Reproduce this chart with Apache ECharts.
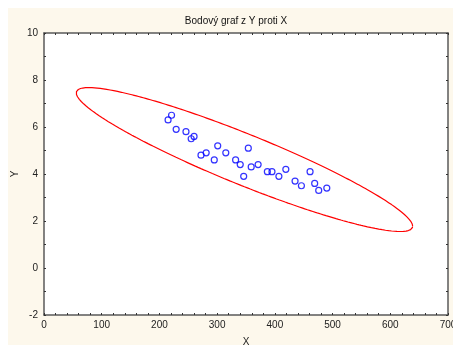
<!DOCTYPE html>
<html>
<head>
<meta charset="utf-8">
<script src="https://cdn.jsdelivr.net/npm/echarts@6/dist/echarts.min.js"></script>
<style>
html,body{margin:0;padding:0;background:#fff;}
#chart{width:453px;height:345px;}
</style>
</head>
<body>
<div id="chart"></div>
<script>
// ---- data ----
const xValues = [215, 221, 229, 246, 255, 260, 272, 281, 295, 301, 315, 332, 340, 346, 354, 359, 371, 387, 395, 407, 419, 435, 446, 461, 469, 476, 490];
const yValues = [6.3, 6.5, 5.9, 5.8, 5.5, 5.6, 4.8, 4.9, 4.6, 5.2, 4.9, 4.6, 4.4, 3.9, 5.1, 4.3, 4.4, 4.1, 4.1, 3.9, 4.2, 3.7, 3.5, 4.1, 3.6, 3.3, 3.4];
const titleText = 'Bodový graf z Y proti X';
const xName = 'X';
const yName = 'Y';
const xTicks = [0, 100, 200, 300, 400, 500, 600, 700];
const yTicks = [-2, 0, 2, 4, 6, 8, 10];
const ellipseScale = 3.45; // prediction-ellipse radius in standard deviations

// ---- derived ellipse from the data statistics ----
const n = xValues.length;
const mx = xValues.reduce((a, b) => a + b, 0) / n;
const my = yValues.reduce((a, b) => a + b, 0) / n;
let sxx = 0, syy = 0, sxy = 0;
for (let i = 0; i < n; i++) {
  const dx = xValues[i] - mx, dy = yValues[i] - my;
  sxx += dx * dx; syy += dy * dy; sxy += dx * dy;
}
sxx /= (n - 1); syy /= (n - 1); sxy /= (n - 1);
const sx = Math.sqrt(sxx), sy = Math.sqrt(syy), r = sxy / (sx * sy);
const ellipse = [];
for (let i = 0; i <= 360; i++) {
  const t = i / 360 * 2 * Math.PI;
  ellipse.push([
    mx + ellipseScale * sx * Math.cos(t),
    my + ellipseScale * sy * (r * Math.cos(t) + Math.sqrt(1 - r * r) * Math.sin(t))
  ]);
}
const points = xValues.map((x, i) => [x, yValues[i]]);

const FONT = "'Liberation Sans', Arial, sans-serif";
const frameColor = '#5a5a5a';
const tickStyle = { color: '#333', width: 1 };

function xAxis(pos, showLabel) {
  return {
    type: 'value', position: pos,
    min: xTicks[0], max: xTicks[xTicks.length - 1], interval: xTicks[1] - xTicks[0],
    axisLine: { show: true, onZero: false, lineStyle: { color: frameColor, width: 1.5 } },
    axisTick: { show: true, inside: true, length: 2, lineStyle: tickStyle },
    minorTick: { show: true, splitNumber: 5, length: 2, lineStyle: tickStyle },
    splitLine: { show: false },
    axisLabel: { show: showLabel, fontSize: 10, color: '#222', margin: 5, fontFamily: FONT },
    name: showLabel ? xName : '', nameLocation: 'middle', nameGap: 22,
    nameTextStyle: { fontSize: 10, color: '#222', fontFamily: FONT }
  };
}
function yAxis(pos, showLabel) {
  return {
    type: 'value', position: pos,
    min: yTicks[0], max: yTicks[yTicks.length - 1], interval: yTicks[1] - yTicks[0],
    axisLine: { show: true, onZero: false, lineStyle: { color: frameColor, width: 1.5 } },
    axisTick: { show: true, inside: true, length: 2, lineStyle: tickStyle },
    minorTick: { show: true, splitNumber: 2, length: 2, lineStyle: tickStyle },
    splitLine: { show: false },
    axisLabel: { show: showLabel, fontSize: 10, color: '#222', margin: 6, fontFamily: FONT },
    name: showLabel ? yName : '', nameLocation: 'middle', nameGap: 24, nameRotate: 90,
    nameMoveOverlap: false,
    nameTextStyle: { fontSize: 10, color: '#222', fontFamily: FONT }
  };
}

const chart = echarts.init(document.getElementById('chart'), null, { renderer: 'canvas' });
chart.setOption({
  backgroundColor: '#fdf8ec',
  animation: false,
  graphic: [
    { type: 'rect', shape: { x: 0, y: 0, width: 453, height: 8 }, style: { fill: '#fff' }, silent: true },
    { type: 'rect', shape: { x: 0, y: 0, width: 8, height: 345 }, style: { fill: '#fff' }, silent: true },
    { type: 'text', style: { text: titleText, x: 236, y: 21, textAlign: 'center', textVerticalAlign: 'middle', font: "10px 'Liberation Sans', Arial, sans-serif", fill: '#111' } }
  ],
  grid: { left: 44, right: 5, top: 33, bottom: 30, show: true, backgroundColor: '#fff', borderWidth: 0, containLabel: false, outerBoundsMode: 'none' },
  xAxis: [xAxis('bottom', true), xAxis('top', false)],
  yAxis: [yAxis('left', true), yAxis('right', false)],
  series: [
    {
      type: 'line', data: ellipse, xAxisIndex: 0, yAxisIndex: 0,
      showSymbol: false, smooth: false, silent: true,
      lineStyle: { color: '#ff0000', width: 1.2 }, z: 2
    },
    {
      type: 'scatter', data: points, xAxisIndex: 0, yAxisIndex: 0,
      symbol: 'circle', symbolSize: 6,
      itemStyle: { color: 'rgba(0,0,0,0)', borderColor: '#0000ff', borderWidth: 1.2 }, z: 3
    }
  ]
});
</script>
</body>
</html>
